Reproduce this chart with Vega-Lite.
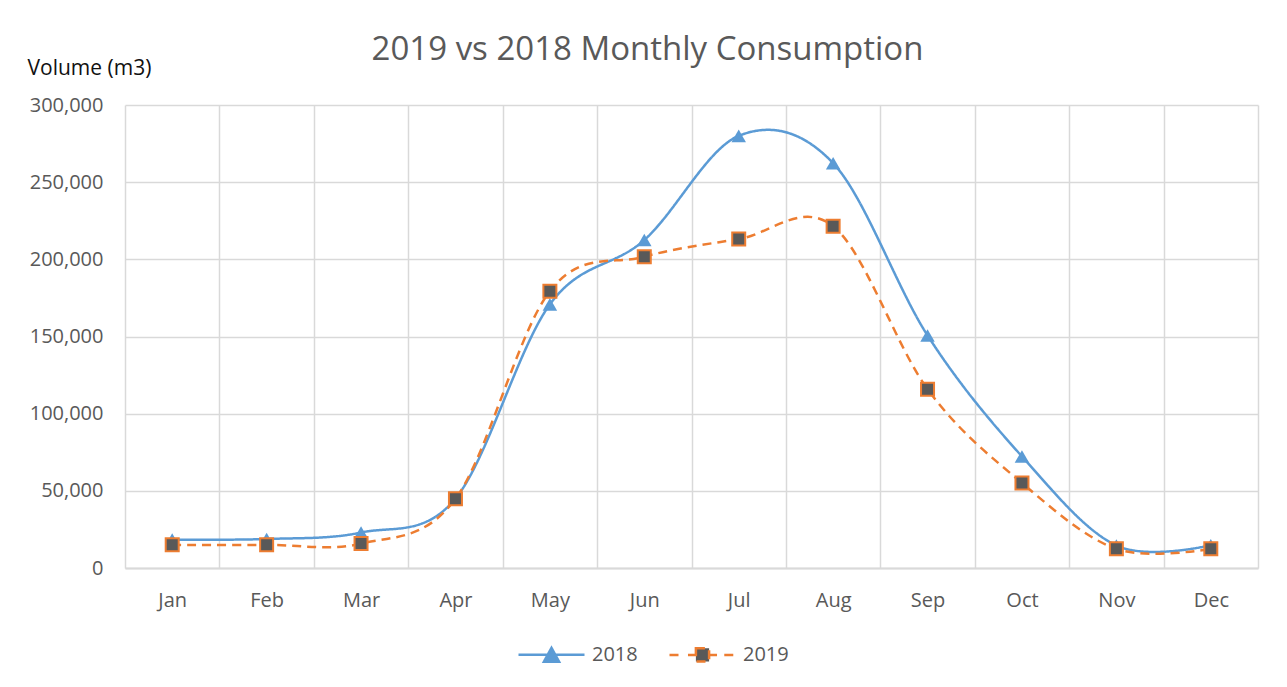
{
  "$schema": "https://vega.github.io/schema/vega-lite/v6.json",
  "width": 1133,
  "height": 463,
  "autosize": {"type": "none"},
  "padding": {"left": 125, "top": 105, "right": 29, "bottom": 119},
  "background": "white",
  "config": {"font": "Open Sans", "view": {"stroke": null}},
  "title": {"text": "2019 vs 2018 Monthly Consumption", "fontSize": 33, "fontWeight": "normal", "color": "#595959", "anchor": "middle", "frame": "group", "dx": -44, "dy": 36, "baseline": "alphabetic", "offset": 0},
  "data": {"values": [
    {"month": "Jan", "series": "2018", "value": 18400},
    {"month": "Feb", "series": "2018", "value": 18800},
    {"month": "Mar", "series": "2018", "value": 23000},
    {"month": "Apr", "series": "2018", "value": 45000},
    {"month": "May", "series": "2018", "value": 170800},
    {"month": "Jun", "series": "2018", "value": 212500},
    {"month": "Jul", "series": "2018", "value": 280000},
    {"month": "Aug", "series": "2018", "value": 262300},
    {"month": "Sep", "series": "2018", "value": 150700},
    {"month": "Oct", "series": "2018", "value": 72300},
    {"month": "Nov", "series": "2018", "value": 14600},
    {"month": "Dec", "series": "2018", "value": 14800},
    {"month": "Jan", "series": "2019", "value": 15000},
    {"month": "Feb", "series": "2019", "value": 15000},
    {"month": "Mar", "series": "2019", "value": 15800},
    {"month": "Apr", "series": "2019", "value": 44800},
    {"month": "May", "series": "2019", "value": 179400},
    {"month": "Jun", "series": "2019", "value": 201700},
    {"month": "Jul", "series": "2019", "value": 213100},
    {"month": "Aug", "series": "2019", "value": 221500},
    {"month": "Sep", "series": "2019", "value": 115900},
    {"month": "Oct", "series": "2019", "value": 55100},
    {"month": "Nov", "series": "2019", "value": 12400},
    {"month": "Dec", "series": "2019", "value": 12400}
  ]},
  "encoding": {
    "x": {
      "field": "month", "type": "ordinal",
      "sort": ["Jan","Feb","Mar","Apr","May","Jun","Jul","Aug","Sep","Oct","Nov","Dec"],
      "scale": {"type": "band", "paddingInner": 0, "paddingOuter": 0},
      "bandPosition": 0.5,
      "axis": {"title": null, "tickBand": "extent", "grid": true, "gridColor": "#d9d9d9", "gridWidth": 1.5, "ticks": false, "domainColor": "#d9d9d9", "domainWidth": 2, "labelFontSize": 20, "labelColor": "#595959", "labelPadding": 22, "labelAngle": 0}
    },
    "y": {
      "field": "value", "type": "quantitative",
      "scale": {"domain": [0, 300000], "nice": false, "zero": true},
      "axis": {"title": "Volume (m3)", "titleAngle": 0, "titleX": -98, "titleY": -37, "titleAlign": "left", "titleBaseline": "middle", "titleFontSize": 21, "titleFontWeight": "normal", "titleColor": "#111111", "format": ",d", "values": [0, 50000, 100000, 150000, 200000, 250000, 300000], "grid": true, "gridColor": "#d9d9d9", "gridWidth": 1.5, "domain": false, "ticks": false, "labelFontSize": 20, "labelColor": "#595959", "labelPadding": 22}
    }
  },
  "layer": [
    {
      "mark": {"type": "line", "interpolate": "cardinal", "tension": 0, "strokeWidth": 2.5},
      "encoding": {
        "color": {"field": "series", "type": "nominal",
          "scale": {"domain": ["2018", "2019"], "range": ["#5B9BD5", "#ED7D31"]},
          "legend": {"orient": "none", "legendX": 392, "legendY": 515, "direction": "horizontal", "title": null, "padding": 0,
            "symbolSize": 4356, "symbolStrokeWidth": 2.5, "labelFontSize": 20, "labelColor": "#595959", "labelOffset": 6, "columnPadding": 26,
            "encode": {"symbols": {"update": {
              "shape": {"signal": "datum.value === '2018' ? 'M-1,0H1M-0.23,0.21L0,-0.21L0.23,0.21Z' : 'M-1,0H-0.66M-0.44,0H-0.2M0.2,0H0.44M0.66,0H1M-0.2,-0.2H0.2V0.2H-0.2Z'"},
              "fill": {"signal": "datum.value === '2018' ? '#5B9BD5' : '#595959'"},
              "strokeDash": {"value": [1, 0]},
              "opacity": {"value": 1}
            }}}
          }},
        "strokeDash": {"field": "series", "type": "nominal", "scale": {"domain": ["2018", "2019"], "range": [[1, 0], [9, 6]]}, "legend": null}
      }
    },
    {
      "transform": [{"filter": "datum.series === '2018'"}],
      "mark": {"type": "point", "shape": "triangle-up", "size": 210, "filled": true, "color": "#5B9BD5", "opacity": 1}
    },
    {
      "transform": [{"filter": "datum.series === '2019'"}],
      "mark": {"type": "point", "shape": "square", "size": 169, "filled": true, "fill": "#595959", "stroke": "#ED7D31", "strokeWidth": 2, "opacity": 1}
    }
  ]
}
